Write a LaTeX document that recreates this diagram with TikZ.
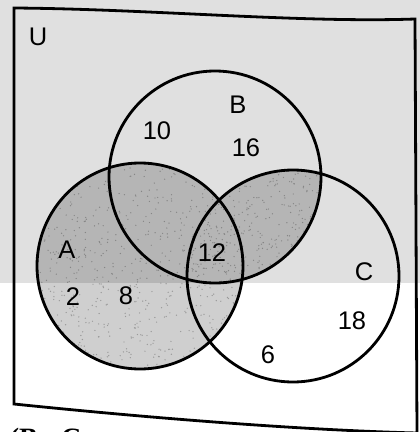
\documentclass[tikz,border=0pt]{standalone}
\usepackage{fontspec}
\setmainfont{Liberation Sans}
\newfontfamily\fragfont{Liberation Serif}
\begin{document}
\begin{tikzpicture}[x=1pt,y=-1pt,
  lbl/.style={font=\fontsize{25.5}{30}\selectfont, inner sep=0pt},
  ring/.style={draw=black, line width=2.8pt},
  shadefill/.style={fill=black!19},
  speck/.style={fill=black!40},
  frameline/.style={draw=black, line width=2.8pt, line join=miter}]
\useasboundingbox (0,0) rectangle (420,432);
\fill[white] (0,0) rectangle (420,432);
\coordinate (cA) at (140,266);
\coordinate (cB) at (215,177);
\coordinate (cC) at (293,276);
% shaded region: A union (B intersect C)
\fill[shadefill] (cA) circle[radius=103];
\begin{scope}
  \clip (cB) circle[radius=106];
  \fill[shadefill] (cC) circle[radius=106];
\end{scope}
% speckled texture of the shading
\pgfmathsetseed{4242}
\begin{scope}
  \clip (cA) circle[radius=103];
  \foreach \i in {1,...,700}{
    \pgfmathsetmacro{\px}{37+205*rnd}
    \pgfmathsetmacro{\py}{163+206*rnd}
    \fill[speck] (\px,\py) circle[radius=0.7];
  }
\end{scope}
\begin{scope}
  \clip (cB) circle[radius=106];
  \clip (cC) circle[radius=106];
  \foreach \i in {1,...,350}{
    \pgfmathsetmacro{\px}{187+135*rnd}
    \pgfmathsetmacro{\py}{170+112*rnd}
    \fill[speck] (\px,\py) circle[radius=0.7];
  }
\end{scope}
% grey band of the photo
\fill[black, opacity=0.12] (0,0) rectangle (420,283);
% frame U
\coordinate (tl) at (14,8);
\coordinate (tr) at (415,19);
\coordinate (br) at (417,433);
\coordinate (bl) at (14,404);
\draw[frameline] (br) -- (tr) .. controls (300,23) and (150,9) .. (tl) -- (bl) .. controls (150,418) and (300,430) .. (br);
% circles
\draw[ring] (cA) circle[radius=103];
\draw[ring] (cB) circle[radius=106];
\draw[ring] (cC) circle[radius=106];
% labels
\node[lbl] (lU) at (38,37) {U};
\node[lbl] (lB) at (238,105) {B};
\node[lbl] (lA) at (67,250) {A};
\node[lbl] (lC) at (364,272) {C};
\node[lbl] (n10) at (157,131) {10};
\node[lbl] (n16) at (246,148) {16};
\node[lbl] (n12) at (212,253) {12};
\node[lbl] (n2) at (73,297) {2};
\node[lbl] (n8) at (126,296) {8};
\node[lbl] (n18) at (352,321) {18};
\node[lbl] (n6) at (268,355) {6};
% fragment of the text below the picture
\begin{scope}
  \clip (0,0) rectangle (420,432);
  \node[anchor=base west, inner sep=0pt, font=\fragfont\bfseries\fontsize{28}{30}\selectfont] (frag) at (-6,447) {n(B : C};
\end{scope}
\end{tikzpicture}
\end{document}
